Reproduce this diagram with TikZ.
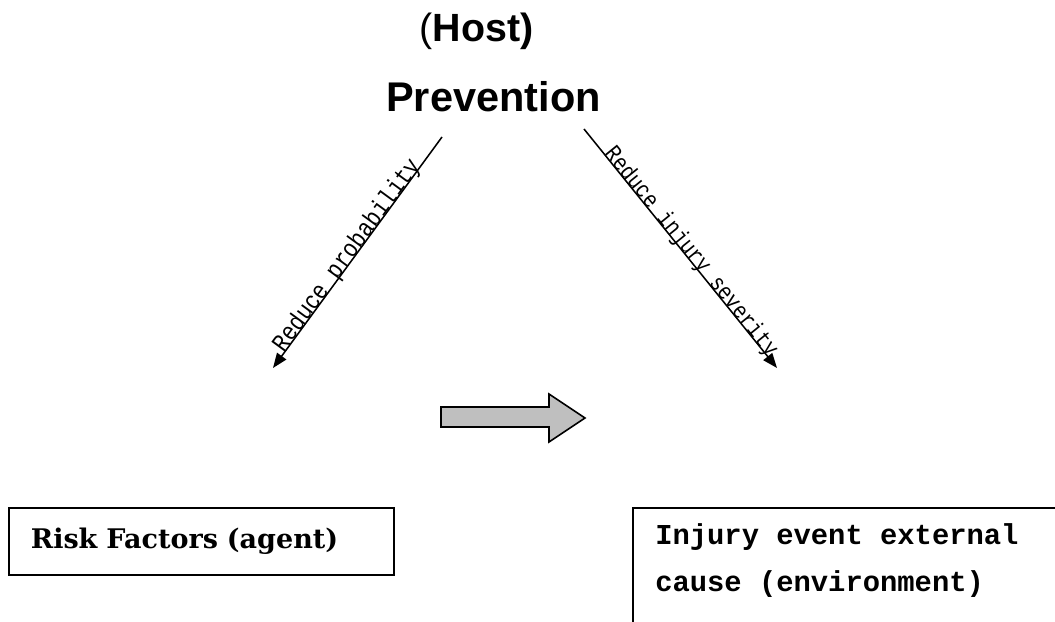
\documentclass[tikz,border=0pt]{standalone}
\usepackage{fontspec}
\usepackage{tikz}
\usetikzlibrary{arrows.meta,positioning}

\newfontfamily\headfont{Liberation Sans}
\newfontfamily\labelfont[FakeStretch=0.85]{Liberation Mono}
\newfontfamily\envfont{Liberation Mono}
\newfontfamily\agentfont{DejaVu Serif}

\begin{document}
\begin{tikzpicture}[x=0.025cm,y=-0.025cm,>={Triangle[length=10.5pt,width=8pt]},
    factorbox/.style={draw,rectangle,line width=1.2pt},
    slopelabel/.style={sloped,anchor=base,inner sep=0pt,pos=0.53},
    blockarrow/.style={draw,fill=black!25,line width=1.1pt}]
    \useasboundingbox (0,0) rectangle (1055,622);
    \clip (0,0) rectangle (1055,622);

    % host / prevention heading
    \node (hostlbl) [anchor=base,font=\headfont\fontsize{28pt}{34pt}\selectfont] at (476.5,42) {(\bfseries Host)};
    \node (prevlbl) [anchor=base,font=\headfont\bfseries\fontsize{29.5pt}{35pt}\selectfont] at (493.5,112) {Prevention};

    \coordinate (probstart) at (442,137);
    \coordinate (probend)   at (273,368);
    \coordinate (sevstart)  at (584,129);
    \coordinate (sevend)    at (777,368);

    \draw[->,line width=1.1pt] (probstart) -- node[slopelabel,font=\labelfont\fontsize{18pt}{21pt}\selectfont] {Reduce probability} (probend);
    \draw[->,line width=1.1pt] (sevstart) -- node[slopelabel,font=\labelfont\fontsize{16.6pt}{20pt}\selectfont] {Reduce injury severity} (sevend);

    % shift arrow
    \draw[blockarrow] (441,407) -- (549,407) -- (549,394) -- (585,418) -- (549,442) -- (549,427) -- (441,427) -- cycle;

    % boxes
    \node (agentbox) [factorbox,anchor=north west,minimum width=9.625cm,minimum height=1.675cm,
        text width=8.525cm,inner xsep=0.55cm,align=left,
        font=\agentfont\bfseries\fontsize{19.2pt}{23pt}\selectfont] at (8,507) {Risk Factors (agent)};

    \node (envbox) [factorbox,anchor=north west,minimum width=12cm,minimum height=4cm] at (632,507) {};
    \node (envtexta) [anchor=base west,inner sep=0pt,font=\envfont\bfseries\fontsize{20.5pt}{24pt}\selectfont] at (655,545) {Injury event external};
    \node (envtextb) [below=1.15cm of envtexta.base west,anchor=base west,inner sep=0pt,
        font=\envfont\bfseries\fontsize{20.5pt}{24pt}\selectfont] {cause (environment)};
\end{tikzpicture}
\end{document}
